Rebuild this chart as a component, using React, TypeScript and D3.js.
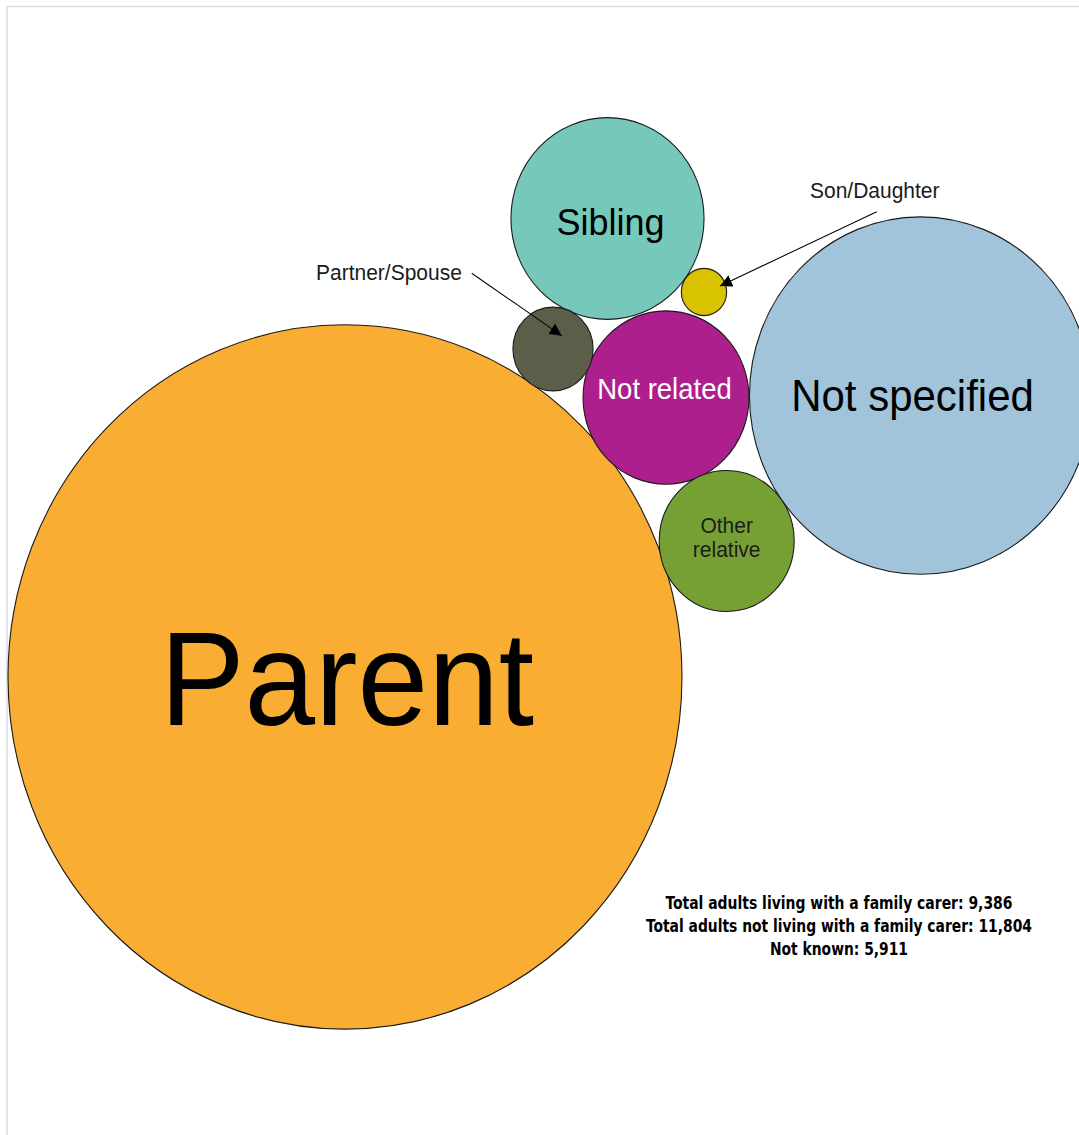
import * as d3 from 'd3';

const WIDTH = 1079;
const HEIGHT = 1135;
// the source picture is a little taller than it is wide, so the bubbles are drawn slightly stretched
const STRETCH = 1.045;

const categories = [
	'Parent',
	'Not specified',
	'Sibling',
	'Not related',
	'Other relative',
	'Partner/Spouse',
	'Son/Daughter',
];
const counts = [6433, 1657, 528, 390, 258, 91, 29];
const colors = ['#f9ae33', '#a1c4da', '#76c8ba', '#ad1f8c', '#76a033', '#5c5e4a', '#d9c300'];

const summaryLines = [
	'Total adults living with a family carer: 9,386',
	'Total adults not living with a family carer: 11,804',
	'Not known: 5,911',
];
// measured widths of the condensed summary lines
const summaryWidths = [347, 386, 138];

// bubble centres (hand laid out in the original)
const centreX = [345, 920.5, 607.5, 666, 726.7, 553, 704];
const centreY = [647.8, 378.5, 209.1, 380.4, 517.7, 334, 279.4];

// labels drawn inside the bubbles
const insideLabels = [
	{ name: 'Parent', lines: ['Parent'], size: 127, dx: 2, dy: [46], fill: '#000' },
	{ name: 'Not specified', lines: ['Not specified'], size: 42, dx: -8, dy: [14.8], fill: '#000' },
	{ name: 'Sibling', lines: ['Sibling'], size: 36, dx: 3, dy: [15.8], fill: '#000' },
	{ name: 'Not related', lines: ['Not related'], size: 27.5, dx: -1.5, dy: [1.2], fill: '#fff' },
	{ name: 'Other relative', lines: ['Other', 'relative'], size: 21, dx: 0, dy: [-7.9, 15], fill: '#1c1c1c' },
];

// labels outside with an arrow pointing into the bubble
const calloutLabels = [
	{ name: 'Partner/Spouse', tx: 316, ty: 268, x1: 471.7, y1: 261.5, dx: 8.7, dy: -12.8 },
	{ name: 'Son/Daughter', tx: 810, ty: 189.5, x1: 876.7, y1: 202.6, dx: 16, dy: -5.7 },
];

const FONT = 'Arial, "Liberation Sans", sans-serif';

export default function App() {
	const x = d3.scaleLinear().domain([0, WIDTH]).range([0, WIDTH]);
	const y = d3.scaleLinear().domain([0, HEIGHT / STRETCH]).range([0, HEIGHT / STRETCH]);
	const r = d3
		.scaleSqrt()
		.domain([0, d3.max(counts) as number])
		.range([0, 337]);

	const bubbles = categories.map((name, i) => ({
		name,
		value: counts[i],
		color: colors[i],
		cx: x(centreX[i]),
		cy: y(centreY[i]),
		r: r(counts[i]),
	}));
	const byName = new Map(bubbles.map((b) => [b.name, b]));

	return (
		<svg
			width={WIDTH}
			height={HEIGHT}
			style={{ position: 'absolute', left: 0, top: 0, background: '#fff' }}
			fontFamily={FONT}>
			<defs>
				<marker
					id='arrow'
					viewBox='0 0 10 10'
					refX={10}
					refY={5}
					markerWidth={12}
					markerHeight={12}
					markerUnits='userSpaceOnUse'
					orient='auto'>
					<path d='M0,0 L10,5 L0,10 Z' fill='#000' />
				</marker>
			</defs>

			{/* frame */}
			<rect x={7} y={6.5} width={WIDTH + 20} height={HEIGHT + 20} fill='none' stroke='#dcdcdc' strokeWidth={1.5} />

			<g transform={`scale(1,${STRETCH})`}>
				{/* bubbles */}
				{bubbles.map((b) => (
					<circle
						key={b.name}
						cx={b.cx}
						cy={b.cy}
						r={b.r}
						fill={b.color}
						stroke='#1a1a1a'
						strokeWidth={1.1}
					/>
				))}

				{/* labels inside */}
				{insideLabels.map((l) => {
					const b = byName.get(l.name)!;
					return (
						<text
							key={l.name}
							textAnchor='middle'
							fontSize={l.size}
							fill={l.fill}>
							{l.lines.map((line, j) => (
								<tspan key={j} x={b.cx + l.dx} y={b.cy + l.dy[j]}>
									{line}
								</tspan>
							))}
						</text>
					);
				})}

				{/* callouts */}
				{calloutLabels.map((c) => {
					const b = byName.get(c.name)!;
					return (
						<g key={c.name}>
							<text x={c.tx} y={c.ty} fontSize={21} fill='#1a1a1a'>
								{c.name}
							</text>
							<line
								x1={c.x1}
								y1={c.y1}
								x2={b.cx + c.dx}
								y2={b.cy + c.dy}
								stroke='#000'
								strokeWidth={1}
								markerEnd='url(#arrow)'
							/>
						</g>
					);
				})}

				{/* totals */}
				<g
					fontFamily='"Liberation Sans Narrow", "DejaVu Sans Condensed", "Arial Narrow", sans-serif'
					fontWeight='bold'
					fontSize={16.5}
					textAnchor='middle'
					fill='#000'>
					{summaryLines.map((line, i) => (
						<text
							key={i}
							x={839}
							y={869.9 + i * 22}
							textLength={summaryWidths[i]}
							lengthAdjust='spacingAndGlyphs'>
							{line}
						</text>
					))}
				</g>
			</g>
		</svg>
	);
}
